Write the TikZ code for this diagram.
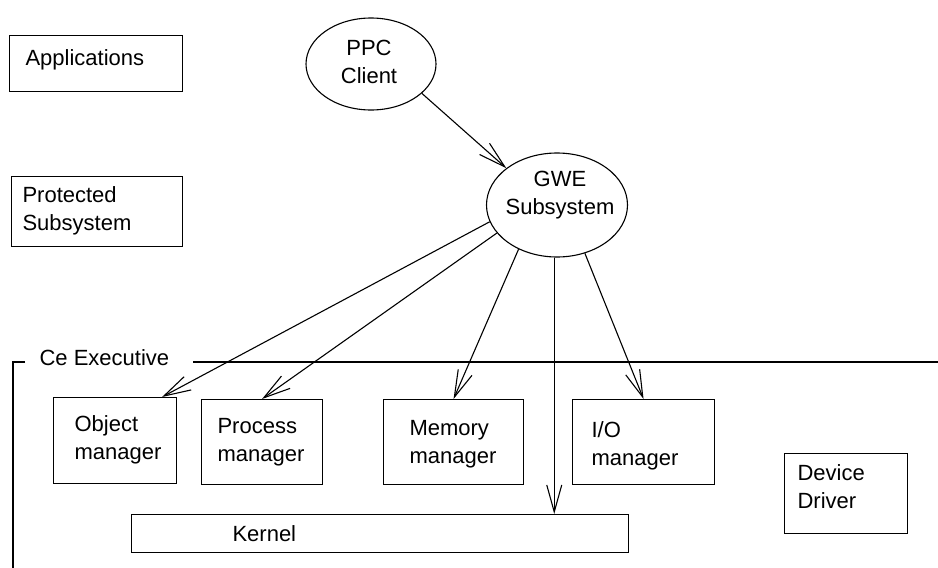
\documentclass[tikz,border=0pt]{standalone}
\usepackage{fontspec}
\setmainfont{Liberation Sans}
\usetikzlibrary{shapes.geometric,arrows.meta,calc}
\begin{document}
\begin{tikzpicture}[x=1pt,y=-1pt, line width=1.1pt,
  box/.style={draw, rectangle, anchor=north west, inner sep=0pt},
  oval/.style={draw, ellipse, inner sep=0pt},
  lbl/.style={font=\fontsize{22}{28}\selectfont, inner sep=0pt, align=left},
  arr/.style={-{Straight Barb[length=27pt,width=15pt]}}]
\useasboundingbox (0,0) rectangle (938,568);

% boxes
\node[box, minimum width=173, minimum height=56] (app)  at (9,35)   {};
\node[box, minimum width=171, minimum height=70] (prot) at (11,176) {};
\node[box, minimum width=123, minimum height=86] (obj)  at (53,397) {};
\node[box, minimum width=121, minimum height=85] (proc) at (201,399) {};
\node[box, minimum width=140, minimum height=85] (mem)  at (383,399) {};
\node[box, minimum width=142, minimum height=85] (io)   at (572,399) {};
\node[box, minimum width=123, minimum height=80] (dev)  at (784,453) {};
\node[box, minimum width=497, minimum height=38] (kern) at (131,514) {};

% ellipses
\node[oval, minimum width=130, minimum height=92]  (ppc) at (371,64)  {};
\node[oval, minimum width=141, minimum height=104] (gwe) at (557,205) {};

% texts (base anchor = baseline of the last line)
\node[lbl, anchor=base west] (tapp)  at (25,65)   {Applications};
\node[lbl, anchor=base west] (tprot) at (22,230)  {Protected\\Subsystem};
\node[lbl, anchor=base, align=center] (tppc) at (369,83)  {PPC\\Client};
\node[lbl, anchor=base, align=center] (tgwe) at (560,214) {GWE\\Subsystem};
\node[lbl, anchor=base west] (cex)   at (39,365)  {Ce Executive};
\node[lbl, anchor=base west] (tobj)  at (74,459)  {Object\\manager};
\node[lbl, anchor=base west] (tproc) at (217,461) {Process\\manager};
\node[lbl, anchor=base west] (tmem)  at (409,463) {Memory\\manager};
\node[lbl, anchor=base west] (tio)   at (591,465) {I/O\\manager};
\node[lbl, anchor=base west] (tdev)  at (797,508) {Device\\Driver};
\node[lbl, anchor=base west] (tkern) at (232,541) {Kernel};

% Ce Executive frame
\coordinate (fa) at (25,362);
\coordinate (fb) at (13,362);
\coordinate (fc) at (13,568);
\coordinate (fd) at (193,362);
\coordinate (fe) at (938,362);
\draw (fa) -- (fb) -- (fc);
\draw (fd) -- (fe);

% connectors
\draw[arr] (ppc.330) -- (gwe.144);
\draw[arr] (gwe.194) -- ([xshift=47pt]obj.north);
\draw[arr] (gwe.205) -- (proc.north);
\draw[arr] (gwe.229) -- (mem.north);
\draw[arr] (gwe.267) -- (gwe.267 |- kern.north);
\draw[arr] (gwe.300) -- (io.north);
\end{tikzpicture}
\end{document}
